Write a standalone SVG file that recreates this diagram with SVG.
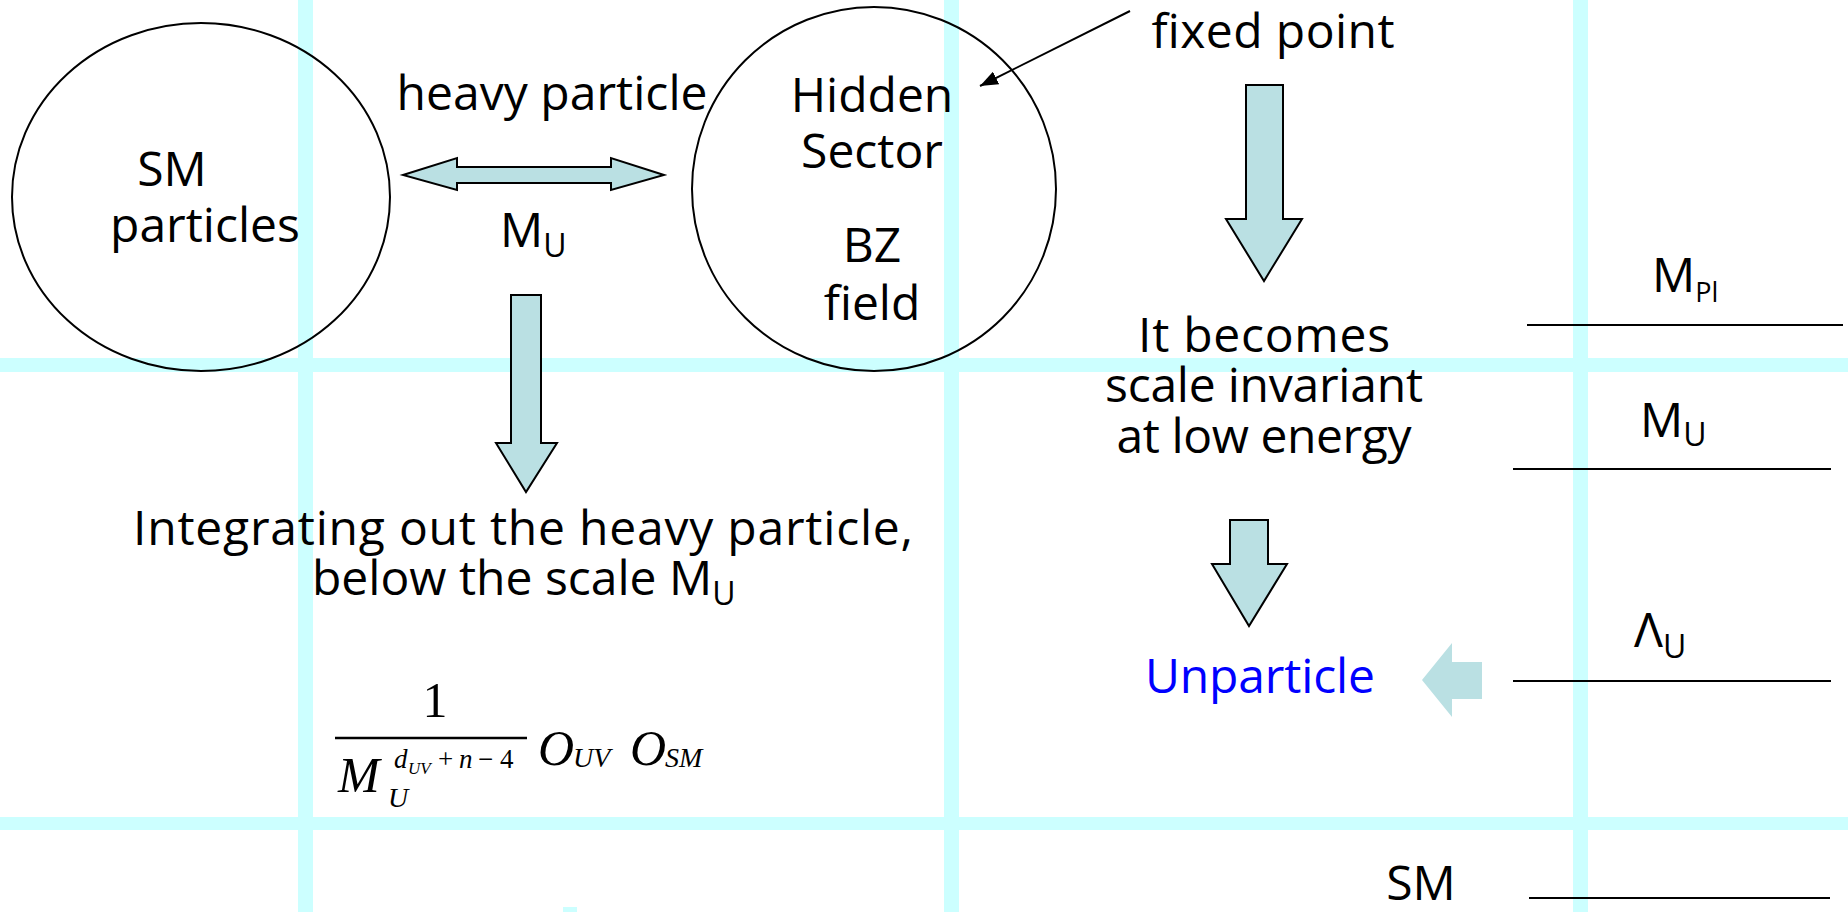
<svg xmlns="http://www.w3.org/2000/svg" width="1848" height="912" viewBox="0 0 1848 912">
  <defs>
    <style>
      .grid { fill: #CCFFFF; }
      .txt { font-family: "Open Sans", "DejaVu Sans", sans-serif; font-size: 48px; fill: #000; }
      .ctr { text-anchor: middle; }
      .sub { font-size: 32px; }
      .math { font-family: "Liberation Serif", "Times New Roman", serif; fill: #000; }
      .it { font-style: italic; }
      .node { fill: none; stroke: #000; stroke-width: 2; }
      .blk { fill: #BAE0E3; stroke: #000; stroke-width: 2; stroke-linejoin: miter; }
      .pale { fill: #BAE0E3; stroke: none; }
      .level { stroke: #000; stroke-width: 2; fill: none; }
      .thin { stroke: #000; stroke-width: 2; fill: none; }
    </style>
    <marker id="head" markerUnits="userSpaceOnUse" markerWidth="20" markerHeight="14" refX="18" refY="7" orient="auto">
      <path d="M0,0 L18,7 L0,14 z" fill="#000"/>
    </marker>
  </defs>

  <rect width="1848" height="912" fill="#FFFFFF"/>

  <g id="grid">
    <rect class="grid" x="298" y="0" width="15" height="912"/>
    <rect class="grid" x="944" y="0" width="15" height="912"/>
    <rect class="grid" x="1573" y="0" width="15" height="912"/>
    <rect class="grid" x="0" y="358" width="1848" height="14"/>
    <rect class="grid" x="0" y="817" width="1848" height="13"/>
    <rect class="grid" x="563" y="907" width="14" height="5"/>
  </g>

  <g id="connectors">
    <polygon id="double-arrow" class="blk" points="403,175 457,158 457,167 611,167 611,158 664,175 611,190 611,183 457,183 457,190"/>
    <polygon id="arrow-integrate" class="blk" points="511,295 541,295 541,443 557,443 526,492 496,443 511,443"/>
    <polygon id="arrow-fixed" class="blk" points="1246,85 1283,85 1283,219 1302,219 1264,281 1226,219 1246,219"/>
    <polygon id="arrow-unparticle" class="blk" points="1230,520 1268,520 1268,564 1287,564 1249,626 1212,564 1230,564"/>
    <polygon id="arrow-lambda" class="pale" points="1422,680 1452,643 1452,662 1482,662 1482,699 1452,699 1452,717"/>
    <line id="arrow-fixed-point" class="thin" x1="1130" y1="11" x2="980" y2="86" marker-end="url(#head)"/>
  </g>

  <g id="sm-particles">
    <ellipse class="node" cx="201" cy="197" rx="189" ry="174"/>
    <text class="txt ctr" x="172" y="186">SM</text>
    <text class="txt ctr" x="205" y="242">particles</text>
  </g>

  <g id="hidden-sector">
    <ellipse class="node" cx="874" cy="189" rx="182" ry="182"/>
    <text class="txt ctr" x="872" y="112">Hidden</text>
    <text class="txt ctr" x="872" y="168">Sector</text>
    <text class="txt ctr" x="872" y="262">BZ</text>
    <text class="txt ctr" x="872" y="320">field</text>
  </g>

  <g id="heavy-particle">
    <text class="txt ctr" x="552" y="110" textLength="311">heavy particle</text>
    <text class="txt" x="500" y="247">M<tspan class="sub" dy="10">U</tspan></text>
  </g>

  <g id="integrating">
    <text class="txt ctr" x="523" y="545" textLength="780">Integrating out the heavy particle,</text>
    <text class="txt" x="312" y="595">below the scale M<tspan class="sub" dy="10">U</tspan></text>
  </g>

  <g id="formula">
    <text class="math" x="435" y="717" font-size="50" text-anchor="middle">1</text>
    <line x1="335" y1="738" x2="527" y2="738" stroke="#000" stroke-width="2.5"/>
    <text class="math it" x="338" y="792" font-size="50">M</text>
    <text class="math it" x="388" y="807" font-size="28">U</text>
    <text class="math it" x="394" y="768" font-size="27">d</text>
    <text class="math it" x="408" y="774" font-size="17">UV</text>
    <text class="math" x="438" y="768" font-size="27">+</text>
    <text class="math it" x="459" y="768" font-size="27">n</text>
    <text class="math" x="478" y="768" font-size="27">−</text>
    <text class="math" x="500" y="768" font-size="27">4</text>
    <text class="math it" x="538" y="765" font-size="50">O</text>
    <text class="math it" x="573" y="767" font-size="28">UV</text>
    <text class="math it" x="630" y="765" font-size="50">O</text>
    <text class="math it" x="665" y="767" font-size="28">SM</text>
  </g>

  <g id="fixed-point">
    <text class="txt ctr" x="1273" y="48" textLength="243">fixed point</text>
  </g>

  <g id="scale-invariant">
    <text class="txt ctr" x="1264" y="352" textLength="252">It becomes</text>
    <text class="txt ctr" x="1264" y="402" textLength="318">scale invariant</text>
    <text class="txt ctr" x="1264" y="453" textLength="295">at low energy</text>
  </g>

  <g id="unparticle">
    <text class="txt ctr" x="1260" y="693" style="fill:#0000FF" textLength="230">Unparticle</text>
  </g>

  <g id="scale-mpl">
    <line class="level" x1="1527" y1="325" x2="1843" y2="325"/>
    <text class="txt" x="1652" y="292">M<tspan font-size="27" dy="10">Pl</tspan></text>
  </g>

  <g id="scale-mu">
    <line class="level" x1="1513" y1="469" x2="1831" y2="469"/>
    <text class="txt" x="1640" y="437">M<tspan class="sub" dy="9">U</tspan></text>
  </g>

  <g id="scale-lambda">
    <line class="level" x1="1513" y1="681" x2="1831" y2="681"/>
    <text class="txt" x="1634" y="647">Λ<tspan class="sub" dy="11">U</tspan></text>
  </g>

  <g id="scale-sm">
    <line class="level" x1="1529" y1="898" x2="1830" y2="898"/>
    <text class="txt ctr" x="1421" y="900">SM</text>
  </g>
</svg>
